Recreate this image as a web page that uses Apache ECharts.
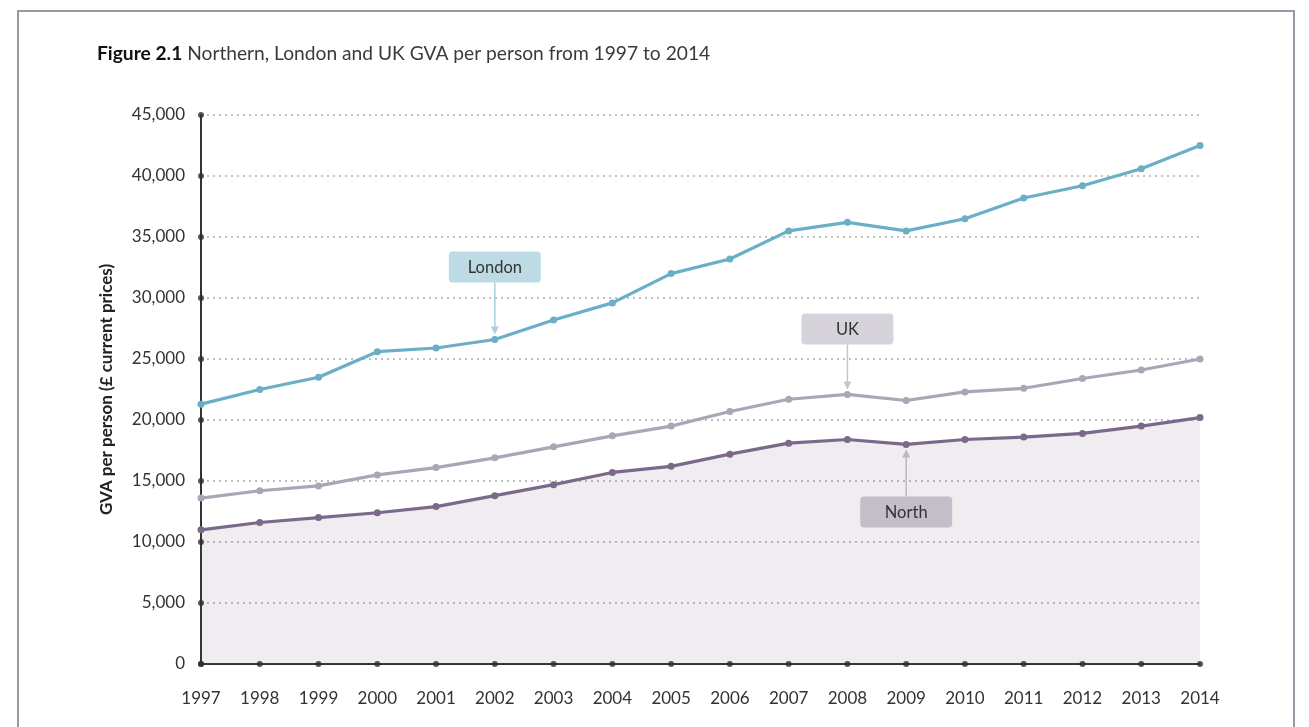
<!DOCTYPE html>
<html>
<head>
<meta charset="utf-8">
<script src="https://cdn.jsdelivr.net/npm/echarts@6/dist/echarts.min.js"></script>
<style>
html,body{margin:0;padding:0;background:#fff;}
#chart{width:1309px;height:727px;}
</style>
</head>
<body>
<div id="chart"></div>
<script>
const years = ['1997','1998','1999','2000','2001','2002','2003','2004','2005','2006','2007','2008','2009','2010','2011','2012','2013','2014'];
const london = [21300,22500,23500,25600,25900,26600,28200,29600,32000,33200,35500,36200,35500,36500,38200,39200,40600,42500];
const uk = [13600,14200,14600,15500,16100,16900,17800,18700,19500,20700,21700,22100,21600,22300,22600,23400,24100,25000];
const north = [11000,11600,12000,12400,12900,13800,14700,15700,16200,17200,18100,18400,18000,18400,18600,18900,19500,20200];
const yTicks = [0,5000,10000,15000,20000,25000,30000,35000,40000,45000];
const annotations = [
  {name:'London', year:'2002', values:london, dir:'up', fill:'#bcdbe5', arrow:'#a9d0dd'},
  {name:'UK', year:'2008', values:uk, dir:'up', fill:'#d6d3da', arrow:'#c9c5ce'},
  {name:'North', year:'2009', values:north, dir:'down', fill:'#c4bec9', arrow:'#bdb7c3'}
];

const FONT = 'Lato, "Open Sans", sans-serif';
const chart = echarts.init(document.getElementById('chart'));
const dotColor = '#2e2e2e';

chart.setOption({
  animation:false,
  backgroundColor:'#fff',
  title:{
    text:'{b|Figure 2.1} Northern, London and UK GVA per person from 1997 to 2014',
    left:97, top:44, padding:0,
    textStyle:{fontFamily:FONT,fontSize:19.2,fontWeight:'normal',color:'#3a3a3a',
      rich:{b:{fontFamily:FONT,fontSize:19.2,fontWeight:'bold',color:'#111'}}}
  },
  grid:{left:201,right:109,top:115,bottom:63,containLabel:false},
  xAxis:{
    type:'category', data:years, boundaryGap:false,
    axisLine:{lineStyle:{color:'#333',width:2}},
    axisTick:{show:false},
    axisLabel:{fontFamily:FONT,fontSize:17,color:'#333',margin:26},
    splitLine:{show:false}
  },
  yAxis:{
    type:'value', min:0, max:45000, interval:5000,
    name:'GVA per person (£ current prices)',
    nameLocation:'middle', nameGap:86, nameRotate:90,
    nameTextStyle:{fontFamily:FONT,fontSize:17,fontWeight:'bold',color:'#222'},
    axisLine:{show:true,lineStyle:{color:'#333',width:2}},
    axisTick:{show:false},
    axisLabel:{fontFamily:FONT,fontSize:17,color:'#333',margin:16,
      formatter:v=>v.toLocaleString('en-GB')},
    splitLine:{show:true,lineStyle:{color:'#aaa',type:[2,4],width:1.5}}
  },
  series:[
    {name:'North area',type:'line',data:north,symbol:'none',lineStyle:{width:0},
      areaStyle:{color:'rgba(115,95,125,0.16)'},z:1,silent:true},
    {name:'London',type:'line',data:london,symbol:'circle',symbolSize:7,
      lineStyle:{color:'#6aaec7',width:3.2},itemStyle:{color:'#6aaec7'},z:3},
    {name:'UK',type:'line',data:uk,symbol:'circle',symbolSize:7,
      lineStyle:{color:'#aba6b4',width:3.2},itemStyle:{color:'#aba6b4'},z:3},
    {name:'North',type:'line',data:north,symbol:'circle',symbolSize:7,
      lineStyle:{color:'#7a6a8a',width:3.2},itemStyle:{color:'#7a6a8a'},z:3},
    {name:'xdots',type:'scatter',data:years.map(y=>[y,0]),symbolSize:6,
      itemStyle:{color:dotColor},z:5,silent:true},
    {name:'ydots',type:'scatter',data:yTicks.map(v=>[years[0],v]),symbolSize:6,
      itemStyle:{color:dotColor},z:5,silent:true}
  ]
});

function buildGraphics(){
  const g = [{
    type:'rect', shape:{x:18,y:11,width:1276,height:740},
    style:{fill:'none',stroke:'#9c98a8',lineWidth:2}, z:0, silent:true
  }];
  annotations.forEach(a=>{
    const idx = years.indexOf(a.year);
    const p = chart.convertToPixel({gridIndex:0},[a.year,a.values[idx]]);
    const W=92,H=31;
    let boxY, y1, y2;
    if(a.dir==='up'){
      const gap = a.name==='London'?57:50;
      boxY = p[1]-gap-H; y1 = p[1]-gap; y2 = p[1]-5;
    } else {
      boxY = p[1]+52; y1 = p[1]+52; y2 = p[1]+5;
    }
    g.push({type:'rect',shape:{x:p[0]-W/2,y:boxY,width:W,height:H,r:4},
      style:{fill:a.fill},z:10});
    g.push({type:'text',x:p[0],y:boxY+H/2+1,
      style:{text:a.name,fill:'#333',font:'16.5px '+FONT,align:'center',verticalAlign:'middle'},z:11});
    const head = a.dir==='up'? -1 : 1;
    g.push({type:'line',shape:{x1:p[0],y1:y1,x2:p[0],y2:y2+head*6},
      style:{stroke:a.arrow,lineWidth:1.5},z:10});
    g.push({type:'polygon',shape:{points:[[p[0],y2],[p[0]-4,y2+head*8],[p[0]+4,y2+head*8]]},
      style:{fill:a.arrow},z:10});
  });
  chart.setOption({graphic:g});
}
buildGraphics();
</script>
</body>
</html>
